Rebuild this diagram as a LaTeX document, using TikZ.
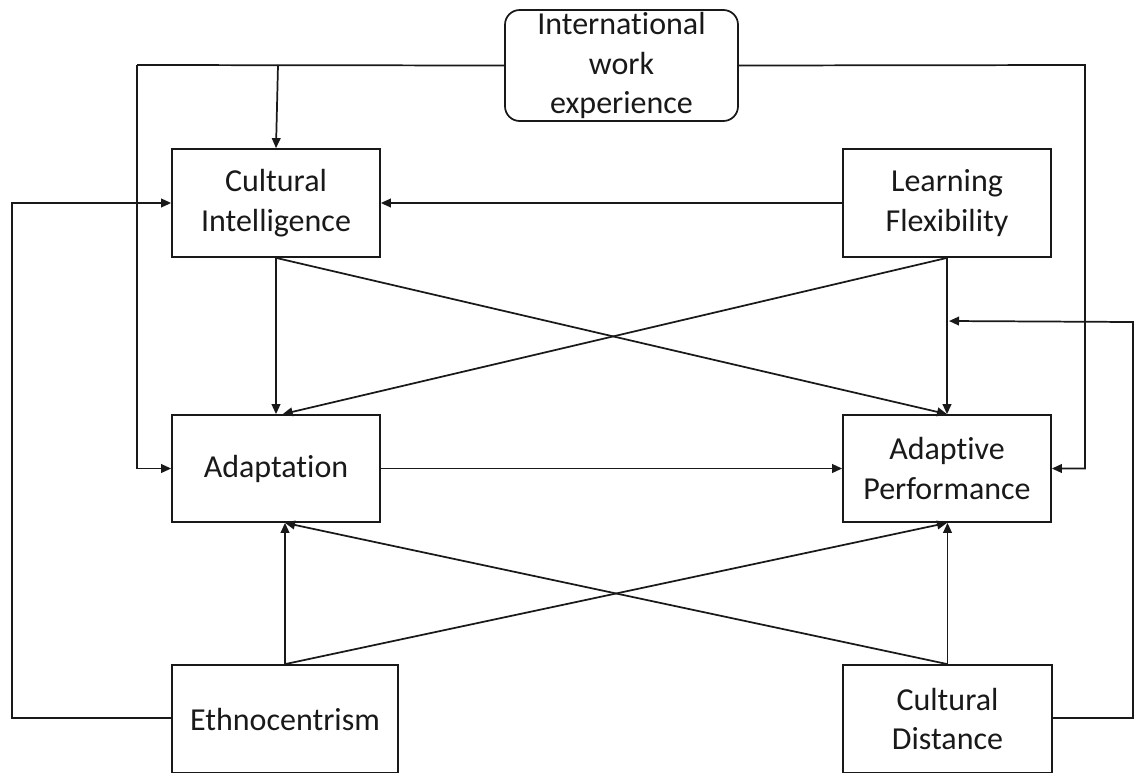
\documentclass[tikz,border=0pt]{standalone}
\usepackage{fontspec}
\setmainfont[Ligatures=NoCommon]{Carlito}
\usetikzlibrary{arrows.meta}
\begin{document}
\begin{tikzpicture}[x=0.75pt,y=-0.75pt,
  line width=1.3pt, draw=black!90,
  box/.style={draw, rectangle, inner sep=0pt, align=center,
    font=\fontsize{24}{29.5}\selectfont, text=black!90},
  link/.style={-{Triangle[length=7.5pt,width=6.5pt]}},
  plain/.style={-}]
\useasboundingbox (0,0) rectangle (1141,772);
\clip (0,0) rectangle (1141,772);
\fill[white] (0,0) rectangle (1141,772);

% variables
\node[box, rounded corners=11pt, minimum width=174.75pt, minimum height=83.25pt] (iwe) at (621.5,65.5) {International\\work\\experience};
\node[box, minimum width=156pt, minimum height=81pt] (ci) at (276,203) {Cultural\\Intelligence};
\node[box, minimum width=156pt, minimum height=81pt] (lf) at (947,203) {Learning\\Flexibility};
\node[box, minimum width=156pt, minimum height=80.25pt] (ad) at (276,468.5) {Adaptation};
\node[box, minimum width=156pt, minimum height=80.25pt] (ap) at (947,468.5) {Adaptive\\Performance};
\node[box, minimum width=169.5pt, minimum height=81pt] (et) at (285,719) {Ethnocentrism};
\node[box, minimum width=156.75pt, minimum height=81pt] (cd) at (947.5,719) {Cultural\\Distance};

% routing points
\coordinate (iweL) at (137,65);
\coordinate (iweR) at (1085,65);
\coordinate (ciTop) at (278,65);
\coordinate (etL) at (12,718);
\coordinate (cdR) at (1133,718);
\coordinate (lfap) at (949,321);

% international work experience
\draw[plain] (iwe.west) -- (iweL);
\draw[link] (iweL) -- (iweL |- ad.west) -- (ad.west);
\draw[link] (ciTop) -- (ci.north);
\draw[link] (iwe.east) -- (iweR) -- (iweR |- ap.east) -- (ap.east);

% direct paths
\draw[link] (lf.west) -- (ci.east);
\draw[link] (ci.south) -- (ci.south |- ad.north);
\draw[link] (ci.south) -- (ap.north);
\draw[link] (lf.south) -- (ap.north);
\draw[link] (lf.south) -- ([xshift=5pt]ad.north);
\draw[link] (ad.east) -- (ap.west);

% moderators from below
\draw[link] (et.north) -- (et.north |- ad.south);
\draw[link] (et.north) -- (ap.south);
\draw[link] (cd.north) -- (cd.north |- ap.south);
\draw[link] (cd.north) -- (et.north |- ad.south);
\draw[link] (et.west |- etL) -- (etL) -- (etL |- ci.west) -- (ci.west);
\draw[link] (cd.east |- cdR) -- (cdR) -- (1133,322) -- (lfap);
\end{tikzpicture}
\end{document}
